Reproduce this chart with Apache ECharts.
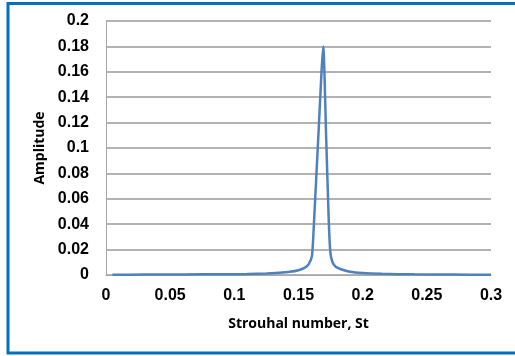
<!DOCTYPE html>
<html>
<head>
<meta charset="utf-8">
<script src="https://cdn.jsdelivr.net/npm/echarts@6/dist/echarts.min.js"></script>
<style>
html, body { margin: 0; padding: 0; background: #fff; }
#chartMain { width: 515px; height: 356px; }
</style>
</head>
<body>
<div id="chartMain"></div>
<script>
// Strouhal number (x) and amplitude (y)
var stValues = [0.005, 0.03, 0.06, 0.09, 0.11, 0.125, 0.135, 0.143, 0.15, 0.155, 0.158, 0.1605, 0.162, 0.1655,
    0.1693, 0.1715, 0.1735, 0.1748, 0.1765, 0.179, 0.183, 0.19, 0.2, 0.215, 0.24, 0.27, 0.3];
var ampValues = [0.0002, 0.0003, 0.0004, 0.0006, 0.0008, 0.0012, 0.0018, 0.0025, 0.0038, 0.0058, 0.0085, 0.015, 0.04, 0.11,
    0.180, 0.11, 0.045, 0.018, 0.010, 0.0065, 0.0045, 0.0025, 0.0015, 0.0009, 0.0005, 0.0003, 0.0002];

var xTicks = { min: 0, max: 0.3, interval: 0.05 };
var yTicks = { min: 0, max: 0.2, interval: 0.02 };

var seriesData = [];
for (var i = 0; i < stValues.length; i++) {
    seriesData.push([stValues[i], ampValues[i]]);
}

var tickFont = {
    fontFamily: 'Liberation Sans',
    fontWeight: 'bold',
    fontSize: 16,
    color: '#000'
};
var nameFont = { fontFamily: 'Open Sans', fontWeight: 'bold', fontSize: 14, color: '#000' };

var option = {
    backgroundColor: '#fff',
    animation: false,
    grid: { left: 106, right: 24, top: 21, bottom: 81 },
    graphic: [{
        type: 'rect',
        shape: { x: 8, y: 3.5, width: 520, height: 349.5 },
        style: { fill: 'none', stroke: '#0070C0', lineWidth: 3 },
        z: 100
    }],
    xAxis: {
        type: 'value',
        min: xTicks.min,
        max: xTicks.max,
        interval: xTicks.interval,
        name: 'Strouhal number, St',
        nameLocation: 'middle',
        nameGap: 42,
        nameTextStyle: nameFont,
        axisLine: { show: true, lineStyle: { color: '#a6a6a6', width: 1 } },
        axisTick: { show: false },
        splitLine: { show: false },
        axisLabel: Object.assign({ margin: 13 }, tickFont)
    },
    yAxis: {
        type: 'value',
        min: yTicks.min,
        max: yTicks.max,
        interval: yTicks.interval,
        name: 'Amplitude',
        nameLocation: 'middle',
        nameGap: 58,
        nameTextStyle: nameFont,
        axisLine: { show: true, lineStyle: { color: '#a6a6a6', width: 1 } },
        axisTick: { show: false },
        splitLine: { show: true, lineStyle: { color: '#9a9a9a', width: 1.5 } },
        axisLabel: Object.assign({ margin: 17 }, tickFont)
    },
    series: [{
        type: 'line',
        data: seriesData,
        showSymbol: false,
        smooth: 0.2,
        lineStyle: { color: '#4f81bd', width: 2.5 },
        z: 5
    }]
};

var mychart = echarts.init(document.getElementById('chartMain'));
mychart.setOption(option);
</script>
</body>
</html>
